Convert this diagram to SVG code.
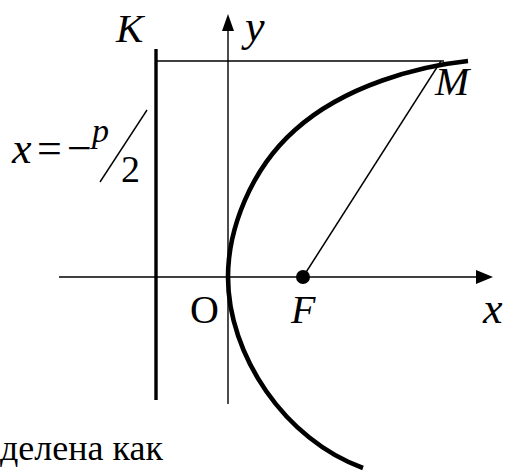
<svg xmlns="http://www.w3.org/2000/svg" width="509" height="472" viewBox="0 0 509 472">
<style>
.t{font-family:"Liberation Serif","Times New Roman",serif;fill:#000}
.i{font-style:italic}
.thin{stroke:#000;stroke-width:1.4;fill:none}
</style>
<rect width="509" height="472" fill="#fff"/>
<g id="connectors">
<line class="thin" x1="59" y1="277" x2="480" y2="277"/>
<polygon points="493,277 476,270 476,284" fill="#000"/>
<line class="thin" x1="228" y1="404" x2="228" y2="28"/>
<polygon points="228,14 222,31 234,31" fill="#000"/>
<line class="thin" x1="157" y1="61" x2="444" y2="61"/>
<line class="thin" x1="303" y1="277" x2="441" y2="61"/>
<line class="thin" x1="100" y1="182" x2="147" y2="110"/>
</g>
<g id="directrix"><line x1="156" y1="49" x2="156" y2="400" stroke="#000" stroke-width="3.4"/></g>
<g id="parabola"><path d="M468,61 C420,66 345,85 295,130 C250,170 228,230 228,277 C228,355 285,440 363,468" fill="none" stroke="#000" stroke-width="4.6"/></g>
<g id="focus"><circle cx="303" cy="277" r="7"/></g>
<g id="labels">
<text class="t i" x="116" y="42" font-size="41">K</text>
<text class="t i" x="245" y="41" font-size="44">y</text>
<text class="t i" x="435" y="95" font-size="41">M</text>
<text class="t" x="190" y="323" font-size="40">O</text>
<text class="t i" x="291" y="323" font-size="40">F</text>
<text class="t i" x="483" y="323" font-size="44">x</text>
<text class="t i" x="12" y="163" font-size="44">x</text>
<text class="t" x="37" y="163" font-size="44">=</text>
<text class="t" x="67" y="163" font-size="44">−</text>
<text class="t i" x="92" y="142" font-size="34">p</text>
<text class="t" x="121" y="182" font-size="38">2</text>
<text class="t" x="0" y="460" font-size="36">делена как</text>
</g>
</svg>
